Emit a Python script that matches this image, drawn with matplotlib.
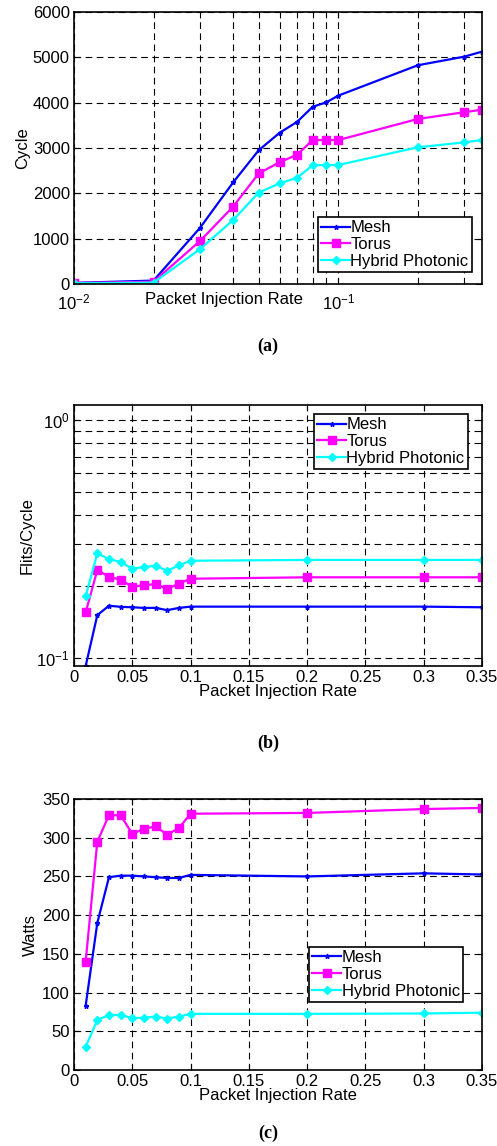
import matplotlib
matplotlib.use("Agg")
import matplotlib.pyplot as plt
from matplotlib.ticker import FixedLocator, NullFormatter, FixedFormatter

plt.rcParams['font.family'] = ['Liberation Sans', 'DejaVu Sans']
plt.rcParams['mathtext.fontset'] = 'custom'
plt.rcParams['mathtext.rm'] = 'Liberation Sans'

# ===== DATEN =====
rate = [0.01, 0.02, 0.03, 0.04, 0.05, 0.06, 0.07, 0.08, 0.09, 0.1, 0.2, 0.3, 0.35]

# (a) Latenz / Cycle
cyc_mesh = [25, 75, 1240, 2240, 2950, 3335, 3580, 3910, 4005, 4155, 4825, 5015, 5125]
cyc_torus = [20, 50, 950, 1705, 2440, 2685, 2855, 3175, 3175, 3175, 3640, 3790, 3845]
cyc_hybrid = [15, 30, 770, 1410, 2015, 2220, 2345, 2620, 2625, 2625, 3015, 3125, 3175]

# (b) Durchsatz / Flits/Cycle
thr_mesh = [0.0922, 0.151, 0.1655, 0.1637, 0.163, 0.162, 0.162, 0.1585, 0.162, 0.164, 0.164, 0.164, 0.163]
thr_torus = [0.155, 0.234, 0.219, 0.213, 0.199, 0.202, 0.204, 0.195, 0.205, 0.215, 0.218, 0.218, 0.218]
thr_hybrid = [0.181, 0.275, 0.260, 0.253, 0.237, 0.241, 0.244, 0.232, 0.245, 0.256, 0.258, 0.258, 0.258]

# (c) Leistung / Watts
pow_mesh = [83, 190, 249, 251, 251, 250, 249, 248, 248, 252, 250, 254, 252.5]
pow_torus = [140, 295, 329, 329, 305, 311.5, 314.5, 304, 312.5, 331, 332, 337, 338.5]
pow_hybrid = [30, 64.5, 71, 71, 67, 67.5, 69, 66.5, 69, 72.5, 72.5, 73, 74]

names = ["Mesh", "Torus", "Hybrid Photonic"]
colors = ["#0000ff", "#ff00ff", "#00ffff"]
markers = [dict(marker="*", markersize=3.5),
           dict(marker="s", markersize=5.5),
           dict(marker="D", markersize=4.5)]

FS = 12
W, H = 497, 1146
fig = plt.figure(figsize=(W / 100, H / 100), dpi=100)


def axes_px(left, top, right, bottom):
    return fig.add_axes([left / W, 1 - bottom / H, (right - left) / W, (bottom - top) / H])


def draw_lines(ax, series):
    for ys, name, col, mk in zip(series, names, colors, markers):
        ax.plot(rate, ys, color=col, linewidth=1.6, label=name, **mk)


def style(ax):
    ax.grid(True, which="both", color="black", linestyle=(0, (6, 4)), linewidth=0.8)
    ax.tick_params(which="both", direction="in", top=True, right=True,
                   labelsize=FS, pad=3, length=4)
    for s in ax.spines.values():
        s.set_linewidth(1.2)


def legend(ax, bbox):
    leg = ax.legend(loc="upper left", bbox_to_anchor=bbox, fontsize=FS,
                    frameon=True, fancybox=False, edgecolor="black",
                    handlelength=1.7, handletextpad=0.05, borderpad=0.2,
                    labelspacing=0.1, borderaxespad=0, framealpha=1)
    leg.get_frame().set_linewidth(1.2)


def caption(y, txt):
    fig.text(268 / W, 1 - y / H, txt, fontsize=13, fontweight="bold",
             family="Liberation Serif", ha="center", va="center")


# ===== (a) =====
ax1 = axes_px(74, 12, 482, 284)
draw_lines(ax1, [cyc_mesh, cyc_torus, cyc_hybrid])
ax1.set_xscale("log")
ax1.set_xlim(0.01, 0.35)
ax1.set_ylim(0, 6000)
ax1.set_yticks(range(0, 6001, 1000))
ax1.xaxis.set_major_locator(FixedLocator([0.01, 0.1]))
ax1.xaxis.set_major_formatter(FixedFormatter([r"$\mathregular{10^{-2}}$", r"$\mathregular{10^{-1}}$"]))
ax1.xaxis.set_minor_locator(FixedLocator([0.02, 0.03, 0.04, 0.05, 0.06, 0.07, 0.08, 0.09, 0.2, 0.3]))
ax1.xaxis.set_minor_formatter(NullFormatter())
style(ax1)
ax1.tick_params(axis="x", which="major", pad=6)
ax1.grid(False, which="minor", axis="y")
ax1.set_ylabel("Cycle", fontsize=FS, labelpad=2)
ax1.set_xlabel("Packet Injection Rate", fontsize=FS)
ax1.xaxis.set_label_coords(0.368, -0.028)
legend(ax1, ((318 - 74) / 408, (284 - 217) / 272))
caption(346, "(a)")

# ===== (b) =====
ax2 = axes_px(74, 405, 482, 666)
draw_lines(ax2, [thr_mesh, thr_torus, thr_hybrid])
ax2.set_yscale("log")
ax2.set_xlim(0, 0.35)
ax2.set_ylim(0.0922, 1.16)
ax2.set_xticks([0, 0.05, 0.1, 0.15, 0.2, 0.25, 0.3, 0.35])
ax2.set_xticklabels(["0", "0.05", "0.1", "0.15", "0.2", "0.25", "0.3", "0.35"])
ax2.yaxis.set_major_locator(FixedLocator([0.1, 1.0]))
ax2.yaxis.set_major_formatter(FixedFormatter([r"$\mathregular{10^{-1}}$", r"$\mathregular{10^{0}}$"]))
ax2.yaxis.set_minor_locator(FixedLocator([0.2, 0.3, 0.4, 0.5, 0.6, 0.7, 0.8, 0.9]))
ax2.yaxis.set_minor_formatter(NullFormatter())
style(ax2)
ax2.set_ylabel("Flits/Cycle", fontsize=FS, labelpad=1)
ax2.set_xlabel("Packet Injection Rate", fontsize=FS, labelpad=-1)
legend(ax2, ((314 - 74) / 408, (666 - 414) / 261))
caption(743, "(b)")

# ===== (c) =====
ax3 = axes_px(74, 799, 482, 1070)
draw_lines(ax3, [pow_mesh, pow_torus, pow_hybrid])
ax3.set_xlim(0, 0.35)
ax3.set_ylim(0, 350)
ax3.set_yticks(range(0, 351, 50))
ax3.set_xticks([0, 0.05, 0.1, 0.15, 0.2, 0.25, 0.3, 0.35])
ax3.set_xticklabels(["0", "0.05", "0.1", "0.15", "0.2", "0.25", "0.3", "0.35"])
style(ax3)
ax3.set_ylabel("Watts", fontsize=FS, labelpad=3)
ax3.set_xlabel("Packet Injection Rate", fontsize=FS, labelpad=-1)
legend(ax3, ((309 - 74) / 408, (1070 - 947) / 271))
caption(1133, "(c)")

fig.savefig("out.png", dpi=100)
plt.close(fig)
